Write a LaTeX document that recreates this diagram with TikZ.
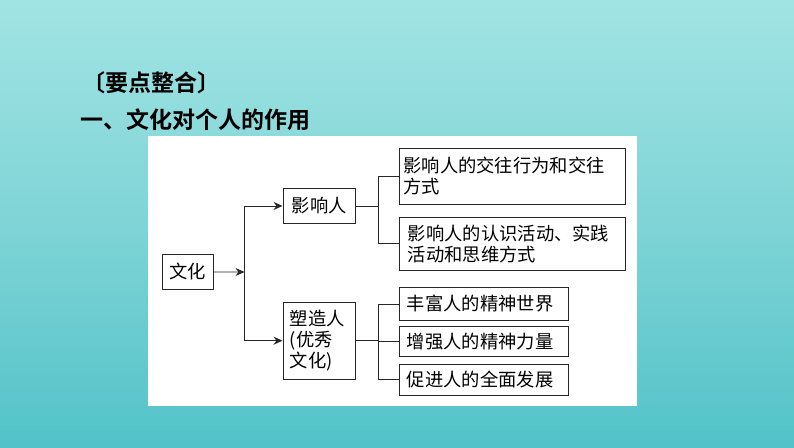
\documentclass[tikz,border=0pt]{standalone}
\usepackage{fontspec}
\newfontfamily\cjk{Noto Sans CJK SC}
\newfontfamily\cjkb{Noto Sans CJK SC Bold}
\usetikzlibrary{arrows.meta}
\definecolor{bgtop}{HTML}{A2E4E4}
\definecolor{bgmid}{HTML}{7FD4D6}
\definecolor{bgbot}{HTML}{52C3C9}
\tikzset{
  box/.style={draw=black!85, line width=0.9pt, fill=white, inner sep=0pt, font=\cjk\fontsize{18.3}{21}\selectfont, align=left, anchor=north west},
  conn/.style={draw=black!85, line width=0.9pt},
  arr/.style={conn, -{Stealth[length=9pt,width=8pt,inset=3pt,fill=black!85]}},
  ttl/.style={font=\cjkb\fontsize{23}{26}\selectfont, anchor=west, inner sep=0pt}
}
\begin{document}
\begin{tikzpicture}[x=1pt,y=-1pt]
\useasboundingbox (0,0) rectangle (794,447);
\shade[top color=bgtop, bottom color=bgbot, middle color=bgmid] (0,0) rectangle (794,447);
\fill[white] (148,136) rectangle (637,406);
\node[ttl] (t1) at (82,83) {〔要点整合〕};
\node[ttl] (t2) at (80,120) {一、文化对个人的作用};
% boxes
\node[box, minimum width=51.5pt, minimum height=35pt, align=center] (wh) at (161.5,254) {文化};
\node[box, minimum width=72.5pt, minimum height=35pt, align=center] (yx) at (282.5,188) {影响人};
\node[box, text width=72.5pt, minimum height=77.5pt] (sz) at (282.5,301.5) {\hspace*{7pt}塑造人\\\hspace*{7pt}(优秀\\\hspace*{7pt}文化)};
\node[box, text width=226pt, minimum height=56pt] (b1) at (398.5,148) {\hspace*{4.5pt}影响人的交往行为和交往\\\hspace*{4.5pt}方式};
\node[box, text width=226pt, minimum height=53.5pt] (b2) at (398.5,216.5) {\hspace*{9pt}影响人的认识活动、实践\\\hspace*{9pt}活动和思维方式};
\node[box, text width=169.5pt, minimum height=33pt] (b3) at (398.5,287) {\hspace*{8pt}丰富人的精神世界};
\node[box, text width=169.5pt, minimum height=30.5pt] (b4) at (398.5,325.5) {\hspace*{8pt}增强人的精神力量};
\node[box, text width=169.5pt, minimum height=31.5pt] (b5) at (398.5,363.5) {\hspace*{8pt}促进人的全面发展};
% connectors
\coordinate (s) at (244.5,272);
\draw[arr] (wh.east) -- (s);
\draw[conn] (s |- yx.west) -- (s |- sz.west);
\draw[arr] (s |- yx.west) -- (yx.west);
\draw[arr] (s |- sz.west) -- (sz.west);
\coordinate (j1) at (378,0);
\draw[conn] (yx.east) -- (j1 |- yx.east);
\draw[conn] (j1 |- b1.west) -- (j1 |- b2.west);
\draw[conn] (j1 |- b1.west) -- (b1.west);
\draw[conn] (j1 |- b2.west) -- (b2.west);
\draw[conn] (sz.east) -- (j1 |- sz.east);
\draw[conn] (j1 |- b3.west) -- (j1 |- b5.west);
\draw[conn] (j1 |- b3.west) -- (b3.west);
\draw[conn] (j1 |- b4.west) -- (b4.west);
\draw[conn] (j1 |- b5.west) -- (b5.west);
\end{tikzpicture}
\end{document}
